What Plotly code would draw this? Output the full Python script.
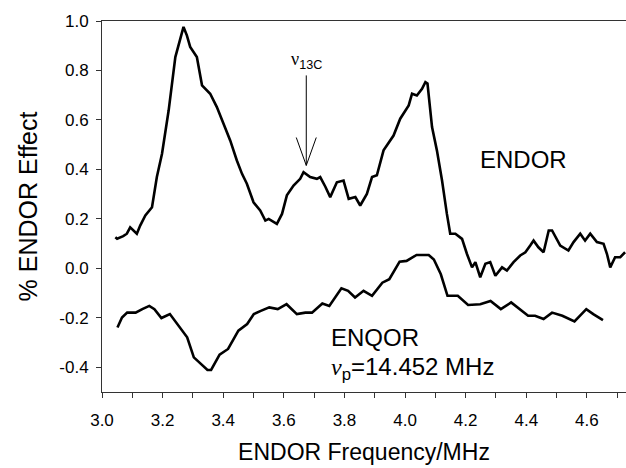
import plotly.graph_objects as go

# ENDOR trace (frequency in MHz, % ENDOR effect)
endor_freq = [3.044, 3.05, 3.07, 3.082, 3.093, 3.105, 3.115, 3.126, 3.143, 3.165, 3.181, 3.198,
              3.22, 3.242, 3.253, 3.269, 3.28, 3.291, 3.313, 3.33, 3.357, 3.379, 3.401, 3.423,
              3.445, 3.462, 3.478, 3.5, 3.522, 3.539, 3.55, 3.561, 3.577, 3.594, 3.61, 3.632,
              3.654, 3.665, 3.687, 3.709, 3.72, 3.737, 3.753, 3.775, 3.797, 3.814, 3.836, 3.852,
              3.874, 3.891, 3.907, 3.929, 3.962, 3.984, 4.012, 4.023, 4.039, 4.056, 4.067, 4.074,
              4.089, 4.105, 4.122, 4.138, 4.149, 4.166, 4.188, 4.204, 4.221, 4.232, 4.248, 4.265,
              4.281, 4.298, 4.32, 4.336, 4.358, 4.38, 4.397, 4.413, 4.424, 4.44, 4.457, 4.474,
              4.485, 4.512, 4.539, 4.556, 4.578, 4.594, 4.611, 4.633, 4.655, 4.666, 4.677, 4.693,
              4.71, 4.726]
endor_val = [0.126, 0.12, 0.13, 0.14, 0.166, 0.15, 0.14, 0.173, 0.214, 0.247, 0.369, 0.463,
             0.639, 0.854, 0.902, 0.976, 0.942, 0.895, 0.854, 0.74, 0.706, 0.652, 0.585, 0.517,
             0.436, 0.382, 0.342, 0.267, 0.234, 0.193, 0.2, 0.193, 0.18, 0.22, 0.295, 0.335,
             0.362, 0.389, 0.369, 0.362, 0.369, 0.33, 0.288, 0.348, 0.355, 0.281, 0.288, 0.254,
             0.301, 0.369, 0.376, 0.477, 0.537, 0.605, 0.659, 0.706, 0.699, 0.726, 0.753, 0.747,
             0.571, 0.477, 0.355, 0.22, 0.14, 0.14, 0.119, 0.059, 0.004, 0.025, -0.036, 0.018,
             0.025, -0.03, 0.004, -0.009, 0.025, 0.052, 0.065, 0.092, 0.112, 0.085, 0.065, 0.153,
             0.153, 0.092, 0.072, 0.106, 0.14, 0.112, 0.14, 0.106, 0.099, 0.059, 0.004, 0.045,
             0.045, 0.065]

# ENQOR trace
enqor_freq = [3.051, 3.066, 3.083, 3.111, 3.133, 3.156, 3.173, 3.196, 3.224, 3.252, 3.281, 3.303,
              3.326, 3.348, 3.36, 3.388, 3.416, 3.45, 3.479, 3.501, 3.524, 3.552, 3.58, 3.609,
              3.643, 3.671, 3.693, 3.727, 3.75, 3.79, 3.812, 3.835, 3.863, 3.891, 3.925, 3.948,
              3.982, 4.005, 4.038, 4.078, 4.095, 4.118, 4.14, 4.174, 4.208, 4.248, 4.282, 4.316,
              4.35, 4.378, 4.406, 4.429, 4.457, 4.485, 4.519, 4.559, 4.581, 4.598, 4.621, 4.653]
enqor_val = [-0.239, -0.199, -0.179, -0.179, -0.165, -0.152, -0.165, -0.201, -0.185, -0.232, -0.279, -0.36,
             -0.387, -0.411, -0.411, -0.349, -0.326, -0.252, -0.225, -0.185, -0.172, -0.158, -0.165, -0.145,
             -0.185, -0.179, -0.179, -0.142, -0.152, -0.081, -0.091, -0.118, -0.091, -0.111, -0.058, -0.044,
             0.027, 0.03, 0.054, 0.054, 0.036, -0.024, -0.111, -0.111, -0.148, -0.145, -0.132, -0.165,
             -0.138, -0.165, -0.192, -0.192, -0.205, -0.179, -0.192, -0.215, -0.185, -0.165, -0.185, -0.209]

x_ticks = [3.0, 3.2, 3.4, 3.6, 3.8, 4.0, 4.2, 4.4, 4.6]
y_ticks = [-0.4, -0.2, 0.0, 0.2, 0.4, 0.6, 0.8, 1.0]

# 13C marker position
c13_freq = 3.674
arrow_top, arrow_tip, head_y, head_dx = 0.78, 0.416, 0.529, 0.033

FONT = "Arial, Liberation Sans, sans-serif"

fig = go.Figure()
fig.add_trace(go.Scatter(x=endor_freq, y=endor_val, mode="lines",
                         line=dict(color="black", width=2.6), showlegend=False))
fig.add_trace(go.Scatter(x=enqor_freq, y=enqor_val, mode="lines",
                         line=dict(color="black", width=2.6), showlegend=False))

# arrow (open V head)
for x0, y0, x1, y1 in [(c13_freq, arrow_top, c13_freq, arrow_tip),
                       (c13_freq - head_dx, head_y, c13_freq, arrow_tip),
                       (c13_freq + head_dx, head_y, c13_freq, arrow_tip)]:
    fig.add_shape(type="line", x0=x0, y0=y0, x1=x1, y1=y1, xref="x", yref="y",
                  line=dict(color="black", width=1))

fig.add_annotation(x=c13_freq, y=arrow_top, xref="x", yref="y", yanchor="bottom",
                   text="<span style='font-family:Liberation Serif'>ν</span><sub>13C</sub>",
                   showarrow=False, font=dict(family=FONT, size=18, color="black"), yshift=1)
fig.add_annotation(x=4.39, y=0.44, xref="x", yref="y", text="ENDOR", showarrow=False,
                   font=dict(family=FONT, size=24, color="black"))
fig.add_annotation(x=3.75, y=-0.28, xref="x", yref="y", xanchor="left", text="ENQOR",
                   showarrow=False, font=dict(family=FONT, size=24, color="black"))
fig.add_annotation(x=3.75, y=-0.405, xref="x", yref="y", xanchor="left",
                   text="<span style='font-family:Liberation Serif'><i>ν</i></span><sub>p</sub>=14.452 MHz",
                   showarrow=False, font=dict(family=FONT, size=24, color="black"))

fig.update_layout(
    width=626, height=468,
    margin=dict(l=102, r=0, t=21, b=76),
    paper_bgcolor="white", plot_bgcolor="white",
    font=dict(family=FONT, color="black"),
    xaxis=dict(range=[3.0, 4.729], tickvals=x_ticks, ticktext=[f"{v:.1f}" for v in x_ticks],
               ticks="outside", ticklen=5, tickcolor="#333", showline=True, linecolor="#333",
               linewidth=1, mirror=True, showgrid=False, zeroline=False,
               tickfont=dict(size=17), ticklabelstandoff=8,
               minor=dict(dtick=0.1, tick0=3.0, ticks="outside", ticklen=5, tickcolor="#333"),
               title=dict(text="ENDOR Frequency/MHz", font=dict(size=23), standoff=14)),
    yaxis=dict(range=[-0.5, 1.0], tickvals=y_ticks, ticktext=[f"{v:.1f}" for v in y_ticks],
               ticks="outside", ticklen=5, tickcolor="#333", showline=True, linecolor="#333",
               linewidth=1, showgrid=False, zeroline=False, tickfont=dict(size=17),
               ticklabelstandoff=4,
               title=dict(text="% ENDOR Effect", font=dict(size=25), standoff=14)),
)

fig.write_html("out.html")
